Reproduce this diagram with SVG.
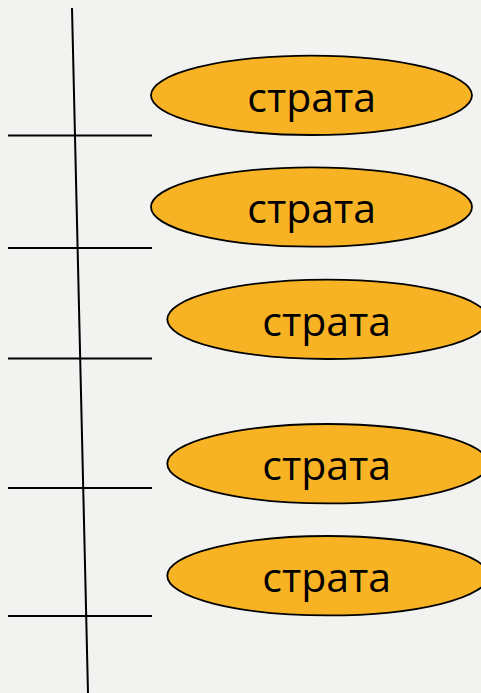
<svg xmlns="http://www.w3.org/2000/svg" width="481" height="693" viewBox="0 0 481 693">
<style>
.bg{fill:#f2f2f0}
.ln{stroke:#000;stroke-width:2;fill:none}
.el{fill:#f7b324;stroke:#000;stroke-width:1.8}
.lb{font-family:"Open Sans","Noto Sans",sans-serif;font-size:41px;fill:#000;text-anchor:middle}
</style>
<rect class="bg" width="481" height="693"/>
<g id="connectors">
<line class="ln" x1="72" y1="8" x2="88" y2="693"/>
<line class="ln" x1="8" y1="135.5" x2="152" y2="135.5"/>
<line class="ln" x1="8" y1="248" x2="152" y2="248"/>
<line class="ln" x1="8" y1="358.5" x2="152" y2="358.5"/>
<line class="ln" x1="8" y1="488" x2="152" y2="488"/>
<line class="ln" x1="8" y1="616" x2="152" y2="616"/>
</g>
<g id="strata1"><ellipse class="el" cx="311.5" cy="95.3" rx="160.5" ry="39.7"/><text class="lb" x="311.7" y="111.7">страта</text></g>
<g id="strata2"><ellipse class="el" cx="311.5" cy="207" rx="160.5" ry="39.7"/><text class="lb" x="311.7" y="223.4">страта</text></g>
<g id="strata3"><ellipse class="el" cx="327.8" cy="319.3" rx="160.5" ry="39.7"/><text class="lb" x="326.7" y="335.7">страта</text></g>
<g id="strata4"><ellipse class="el" cx="327.8" cy="463.7" rx="160.5" ry="39.7"/><text class="lb" x="326.7" y="480.1">страта</text></g>
<g id="strata5"><ellipse class="el" cx="327.8" cy="575.7" rx="160.5" ry="39.7"/><text class="lb" x="326.7" y="592.1">страта</text></g>
</svg>
